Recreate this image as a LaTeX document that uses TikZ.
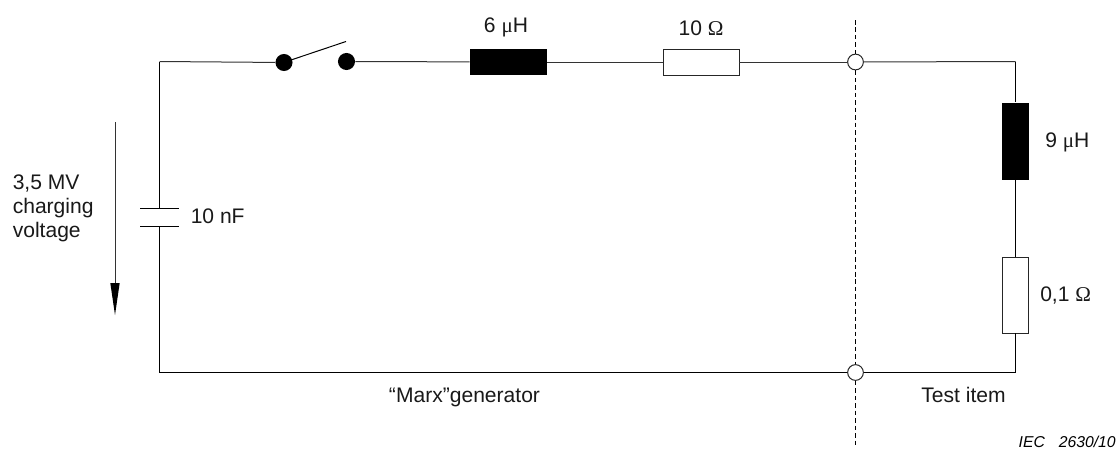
\documentclass[tikz,border=0pt]{standalone}
\usepackage{fontspec}
\setmainfont{Liberation Sans}
\newfontfamily\symfont{Liberation Serif}
\begin{document}
\begin{tikzpicture}[x=0.75pt,y=-0.75pt,
  wire/.style={line width=0.75pt,black!80},
  thinwire/.style={line width=0.75pt,black},
  lab/.style={inner sep=0pt,font=\fontsize{15.8}{18}\selectfont,text=black!90},
  dot/.style={circle,fill=black,draw=none,minimum size=12.8pt,inner sep=0pt},
  term/.style={circle,fill=white,draw=black!85,line width=0.75pt,minimum size=11.8pt,inner sep=0pt},
  indh/.style={rectangle,fill=black,draw=none,minimum width=57.75pt,minimum height=19.5pt,inner sep=0pt},
  resh/.style={rectangle,fill=white,draw=black!85,line width=0.6pt,minimum width=57pt,minimum height=19.5pt,inner sep=0pt},
  indv/.style={rectangle,fill=black,draw=none,minimum width=20.25pt,minimum height=57.75pt,inner sep=0pt},
  resv/.style={rectangle,fill=white,draw=black!85,line width=0.6pt,minimum width=19.5pt,minimum height=57pt,inner sep=0pt}]
\useasboundingbox (0,0) rectangle (1120,450);
% corner and helper coordinates
\coordinate (tl) at (159.5,61.5);
\coordinate (tr) at (1015.5,61.5);
\coordinate (bl) at (159.5,372.5);
\coordinate (br) at (1015.5,372.5);
\coordinate (capa) at (159.5,208.5);
\coordinate (capb) at (159.5,226);
\coordinate (pa1) at (140,208.5);
\coordinate (pa2) at (178.5,208.5);
\coordinate (pb1) at (140,226);
\coordinate (pb2) at (178.5,226);
\coordinate (armend) at (346,41.5);
\coordinate (armstart) at (291,60);
\coordinate (dtop) at (855.5,20);
\coordinate (dbot) at (855.5,448);
\coordinate (va) at (115,122);
\coordinate (vb) at (115,315);
% components
\node[dot] (sw1) at (284,62.5) {};
\node[dot] (sw2) at (346.5,61.5) {};
\node[indh] (L1) at (508.5,62) {};
\node[resh] (R1) at (701,62) {};
\node[term] (T1) at (855.5,62) {};
\node[term] (T2) at (855.5,372.5) {};
\node[indv] (L2) at (1015.5,141) {};
\node[resv] (R2) at (1015.5,295) {};
% wires
\draw[thinwire] (capa) -- (tl);
\draw[wire] (tl) -- (sw1);
\draw[wire] (sw2) -- (L1);
\draw[wire] (L1) -- (R1);
\draw[wire] (R1) -- (T1);
\draw[wire] (T1) -- (tr);
\draw[thinwire] (tr) -- (L2);
\draw[thinwire] (L2) -- (R2);
\draw[thinwire] (R2) -- (br);
\draw[thinwire] (br) -- (T2);
\draw[thinwire] (T2) -- (bl);
\draw[thinwire] (bl) -- (capb);
\draw[thinwire] (pa1) -- (pa2);
\draw[thinwire] (pb1) -- (pb2);
\draw[thinwire] (armstart) -- (armend);
% dashed separator
\draw[line width=0.6pt,black,dash pattern=on 3.4pt off 2.2pt] (dtop) -- (T1);
\draw[line width=0.6pt,black,dash pattern=on 3.4pt off 2.2pt] (T1) -- (T2);
\draw[line width=0.6pt,black,dash pattern=on 3.4pt off 2.2pt] (T2) -- (dbot);
% voltage arrow
\draw[line width=0.75pt,black!80] (va) -- (115,285);
\fill[black] (110.3,283) -- (119.7,283) -- (vb) -- cycle;
% labels
\node[lab,anchor=base] (t6) at (506,32.5) {6 {\symfont μ}H};
\node[lab,anchor=base] (t10) at (701,35) {10 {\symfont Ω}};
\node[lab,anchor=base west] (t9) at (1045,147) {9 {\symfont μ}H};
\node[lab,anchor=base west] (t01) at (1040,301) {0,1 {\symfont Ω}};
\node[lab,anchor=base west] (tc) at (190.5,223.5) {10 nF};
\node[lab,anchor=west,align=left] (tv) at (12.5,208.5) {3,5 MV\\charging\\voltage};
\node[lab,anchor=base] (tm) at (464.5,402) {“Marx”generator};
\node[lab,anchor=base] (tt) at (963.5,402) {Test item};
\node[inner sep=0pt,anchor=east,font=\fontsize{11.8}{12}\selectfont\itshape] (tiec) at (1116,441.5) {IEC\hspace{10.5pt}2630/10};
\end{tikzpicture}
\end{document}
